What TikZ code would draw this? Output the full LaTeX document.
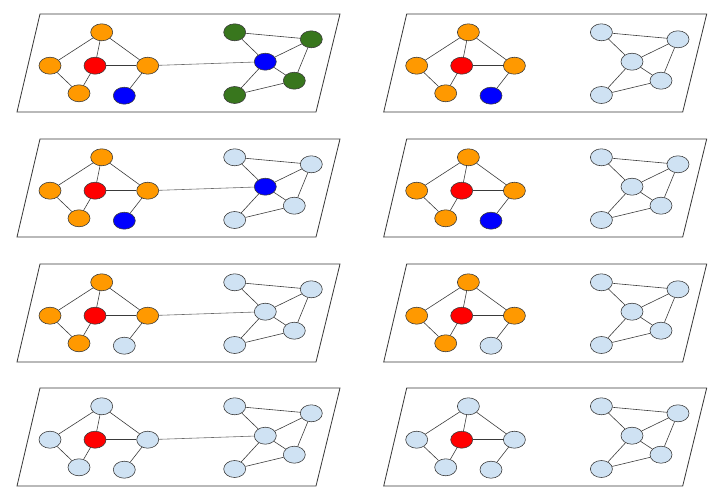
\documentclass[tikz,border=0pt]{standalone}
\usepackage{tikz}
\usetikzlibrary{shapes.geometric}
\definecolor{gOrange}{HTML}{FF9900}
\definecolor{gRed}{HTML}{FF0000}
\definecolor{gBlue}{HTML}{0000FF}
\definecolor{gGreen}{HTML}{38761D}
\definecolor{gPale}{HTML}{CFE2F3}
\definecolor{gLine}{HTML}{3A3A3A}
\tikzset{
  gnode/.style={draw=gLine, ellipse, minimum width=6.6mm, minimum height=5.1mm,
                inner sep=0pt, line width=0.5pt},
  gedge/.style={gLine, line width=0.5pt},
  glink/.style={gLine!75, line width=0.5pt},
  gplane/.style={draw=gLine, line width=0.7pt, fill=white},
}
% #1 panel name, #2 shift, #3 outer left colour, #4 small node colour,
% #5 outer right colour, #6 centre right colour
\newcommand{\graphpanel}[6]{%
  \begin{scope}[shift={#2}]
    \draw[gplane] (40,14) -- (340,14) -- (316,112) -- (17,112) -- cycle;
    \node[gnode, fill=#3]   (#1t)  at (101.7,32.3) {};
    \node[gnode, fill=#3]   (#1l)  at (50,65.7)    {};
    \node[gnode, fill=gRed] (#1m)  at (95,65.7)    {};
    \node[gnode, fill=#3]   (#1r)  at (147.7,65.7) {};
    \node[gnode, fill=#3]   (#1b)  at (79,93.3)    {};
    \node[gnode, fill=#4]   (#1s)  at (124.3,95.7) {};
    \node[gnode, fill=#5]   (#1ul) at (234.7,32.3) {};
    \node[gnode, fill=#5]   (#1ur) at (311.3,39.3) {};
    \node[gnode, fill=#6]   (#1c)  at (265.3,61.7) {};
    \node[gnode, fill=#5]   (#1lr) at (294.3,80.7) {};
    \node[gnode, fill=#5]   (#1ll) at (234.7,95)   {};
    \draw[gedge] (#1t) -- (#1l);
    \draw[gedge] (#1t) -- (#1m);
    \draw[gedge] (#1t) -- (#1r);
    \draw[gedge] (#1l) -- (#1b);
    \draw[gedge] (#1m) -- (#1b);
    \draw[gedge] (#1m) -- (#1r);
    \draw[gedge] (#1r) -- (#1s);
    \draw[gedge] (#1ul) -- (#1ur);
    \draw[gedge] (#1ul) -- (#1c);
    \draw[gedge] (#1ur) -- (#1c);
    \draw[gedge] (#1ur) -- (#1lr);
    \draw[gedge] (#1c) -- (#1lr);
    \draw[gedge] (#1c) -- (#1ll);
    \draw[gedge] (#1ll) -- (#1lr);
  \end{scope}}

\begin{document}
\begin{tikzpicture}[x=0.03cm, y=-0.03cm]
    \useasboundingbox (0,0) rectangle (727,503);
    % left column
    \graphpanel{A1}{(0,0)}{gOrange}{gBlue}{gGreen}{gBlue}
    \graphpanel{A2}{(0,125)}{gOrange}{gBlue}{gPale}{gBlue}
    \graphpanel{A3}{(0,250)}{gOrange}{gPale}{gPale}{gPale}
    \graphpanel{A4}{(0,374)}{gPale}{gPale}{gPale}{gPale}
    \draw[glink] (A1r) -- (A1c);
    \draw[glink] (A2r) -- (A2c);
    \draw[glink] (A3r) -- (A3c);
    \draw[glink] (A4r) -- (A4c);
    % right column
    \graphpanel{B1}{(366.7,0)}{gOrange}{gBlue}{gPale}{gPale}
    \graphpanel{B2}{(366.7,125)}{gOrange}{gBlue}{gPale}{gPale}
    \graphpanel{B3}{(366.7,250)}{gOrange}{gPale}{gPale}{gPale}
    \graphpanel{B4}{(366.7,374)}{gPale}{gPale}{gPale}{gPale}
\end{tikzpicture}
\end{document}
